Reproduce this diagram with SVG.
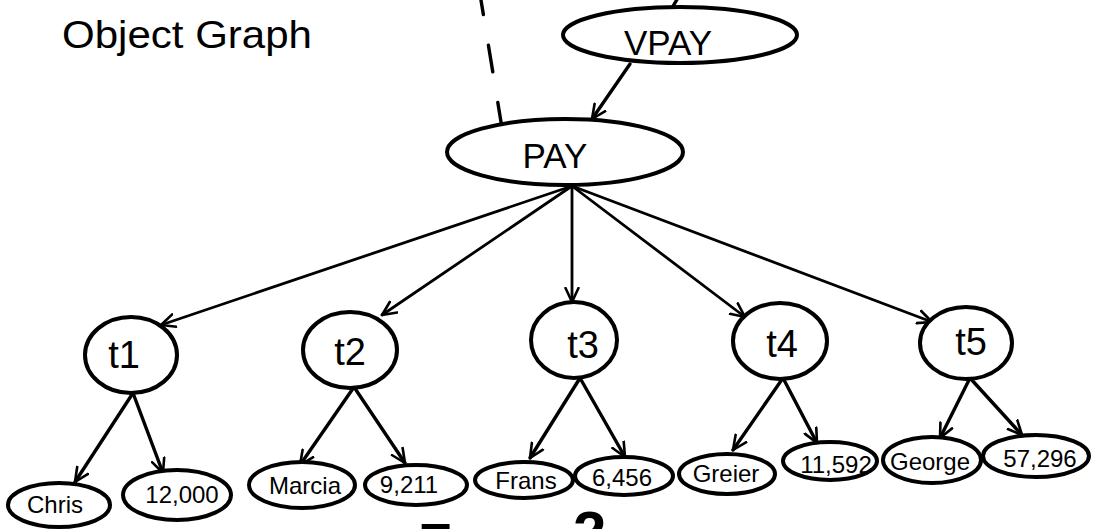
<svg xmlns="http://www.w3.org/2000/svg" width="1093" height="529" viewBox="0 0 1093 529">
  <style>
    .node { fill: #fff; stroke: #000; stroke-width: 4; }
    .lbl { font-family: "Liberation Sans", "DejaVu Sans", sans-serif; fill: #000; }
    .c { text-anchor: middle; }
    .big { font-size: 35px; }
    .mid { font-size: 38px; }
    .small { font-size: 24px; }
    .edge { fill: none; stroke: #000; stroke-width: 3.4; stroke-linecap: round; }
    .thin { stroke-width: 2.8; }
  </style>
  <defs>
    <marker id="arrow" viewBox="0 0 16 16" refX="15" refY="8" markerWidth="16" markerHeight="16" markerUnits="userSpaceOnUse" orient="auto">
      <path d="M1,1.5 L15,8 L1,14.5" fill="none" stroke="#000" stroke-width="2.6" stroke-linecap="round" stroke-linejoin="round"/>
    </marker>
  </defs>

  <rect width="1093" height="529" fill="#fff"/>

  <!-- title -->
  <text class="lbl" x="62" y="48" font-size="39" textLength="250" lengthAdjust="spacingAndGlyphs">Object Graph</text>

  <!-- connectors -->
  <g id="connectors">
    <!-- dashed separator -->
    <line class="edge" x1="479" y1="-12" x2="502" y2="128" stroke-dasharray="27 31" stroke-linecap="butt"/>
    <!-- link leaving VPAY upward -->
    <line class="edge" x1="672" y1="8" x2="679" y2="-4"/>
    <!-- VPAY -> PAY -->
    <line class="edge" x1="630" y1="64" x2="592" y2="119" marker-end="url(#arrow)"/>
    <!-- PAY -> tuples -->
    <line class="edge thin" x1="572" y1="186" x2="161" y2="325" marker-end="url(#arrow)"/>
    <line class="edge thin" x1="572" y1="186" x2="382" y2="315" marker-end="url(#arrow)"/>
    <line class="edge thin" x1="572" y1="186" x2="572" y2="302" marker-end="url(#arrow)"/>
    <line class="edge thin" x1="572" y1="186" x2="745" y2="317" marker-end="url(#arrow)"/>
    <line class="edge thin" x1="572" y1="186" x2="932" y2="322" marker-end="url(#arrow)"/>
    <!-- tuples -> values -->
    <line class="edge" x1="133" y1="393" x2="75" y2="482" marker-end="url(#arrow)"/>
    <line class="edge" x1="133" y1="393" x2="163" y2="473" marker-end="url(#arrow)"/>
    <line class="edge" x1="354" y1="387" x2="300" y2="465" marker-end="url(#arrow)"/>
    <line class="edge" x1="354" y1="387" x2="405" y2="463" marker-end="url(#arrow)"/>
    <line class="edge" x1="580" y1="378" x2="530" y2="458" marker-end="url(#arrow)"/>
    <line class="edge" x1="580" y1="378" x2="625" y2="457" marker-end="url(#arrow)"/>
    <line class="edge" x1="783" y1="378" x2="733" y2="450" marker-end="url(#arrow)"/>
    <line class="edge" x1="783" y1="378" x2="817" y2="443" marker-end="url(#arrow)"/>
    <line class="edge" x1="970" y1="378" x2="940" y2="438" marker-end="url(#arrow)"/>
    <line class="edge" x1="970" y1="378" x2="1022" y2="435" marker-end="url(#arrow)"/>
  </g>

  <!-- relation nodes -->
  <g id="vpay">
    <ellipse class="node" cx="680" cy="35" rx="117" ry="28"/>
    <text class="lbl big c" x="668" y="55">VPAY</text>
  </g>
  <g id="pay">
    <ellipse class="node" cx="565" cy="152" rx="118" ry="33"/>
    <text class="lbl big c" x="555" y="168">PAY</text>
  </g>

  <!-- tuple nodes -->
  <g id="t1">
    <ellipse class="node" cx="131" cy="355" rx="46" ry="38"/>
    <text class="lbl mid c" x="124" y="368">t1</text>
  </g>
  <g id="t2">
    <ellipse class="node" cx="350" cy="350" rx="47" ry="38"/>
    <text class="lbl mid c" x="350" y="365">t2</text>
  </g>
  <g id="t3">
    <ellipse class="node" cx="574" cy="340" rx="43" ry="38"/>
    <text class="lbl mid c" x="583" y="358">t3</text>
  </g>
  <g id="t4">
    <ellipse class="node" cx="780" cy="341" rx="47" ry="38"/>
    <text class="lbl mid c" x="782" y="357">t4</text>
  </g>
  <g id="t5">
    <ellipse class="node" cx="966" cy="343" rx="46" ry="36"/>
    <text class="lbl mid c" x="971" y="355">t5</text>
  </g>

  <!-- value nodes -->
  <g id="v-chris">
    <ellipse class="node" cx="59" cy="505" rx="51" ry="22"/>
    <text class="lbl small c" x="55" y="513">Chris</text>
  </g>
  <g id="v-12000">
    <ellipse class="node" cx="177" cy="495" rx="54" ry="25"/>
    <text class="lbl small c" x="182" y="503">12,000</text>
  </g>
  <g id="v-marcia">
    <ellipse class="node" cx="302" cy="485" rx="53" ry="23"/>
    <text class="lbl small c" x="305" y="494">Marcia</text>
  </g>
  <g id="v-9211">
    <ellipse class="node" cx="416" cy="485" rx="51" ry="20"/>
    <text class="lbl small c" x="409" y="493">9,211</text>
  </g>
  <g id="v-frans">
    <ellipse class="node" cx="524" cy="480" rx="49" ry="18"/>
    <text class="lbl small c" x="526" y="489">Frans</text>
  </g>
  <g id="v-6456">
    <ellipse class="node" cx="624" cy="476" rx="49" ry="19"/>
    <text class="lbl small c" x="622" y="486">6,456</text>
  </g>
  <g id="v-greier">
    <ellipse class="node" cx="727" cy="474" rx="48" ry="20"/>
    <text class="lbl small c" x="726" y="482">Greier</text>
  </g>
  <g id="v-11592">
    <ellipse class="node" cx="830" cy="461" rx="47" ry="19"/>
    <text class="lbl small c" x="836" y="473">11,592</text>
  </g>
  <g id="v-george">
    <ellipse class="node" cx="932" cy="460" rx="49" ry="23"/>
    <text class="lbl small c" x="930" y="470">George</text>
  </g>
  <g id="v-57296">
    <ellipse class="node" cx="1036" cy="456" rx="53" ry="21"/>
    <text class="lbl small c" x="1040" y="467">57,296</text>
  </g>

  <!-- caption, mostly below the lower edge -->
  <text class="lbl" x="418" y="562" font-size="55" font-weight="bold">F</text>
  <text class="lbl" x="573" y="553" font-size="60" font-weight="bold">2</text>
</svg>
